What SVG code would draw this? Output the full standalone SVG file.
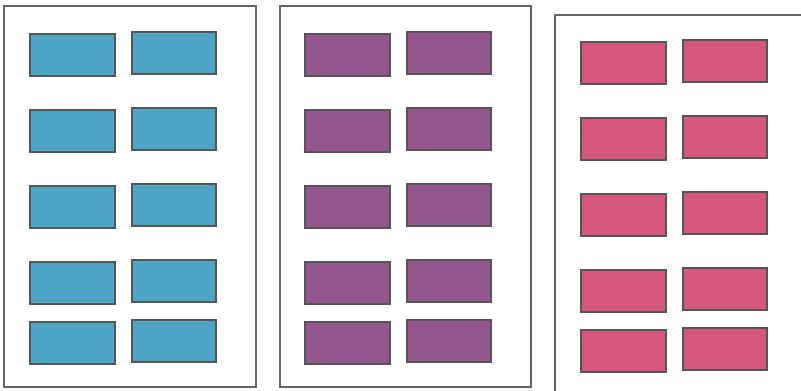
<svg xmlns="http://www.w3.org/2000/svg" width="801" height="391" viewBox="0 0 801 391">
<style>
.panel{fill:#fff;stroke:#666;stroke-width:2}
.b{stroke:#555;stroke-width:2}
.blue{fill:#4ca3c4}
.purple{fill:#95558f}
.pink{fill:#d7587d}
</style>
<rect width="801" height="391" fill="#fff"/>
<g id="panel1">
<rect class="panel" x="4" y="6" width="252" height="381"/>
<g class="b blue">
<rect id="p1a1" x="30" y="34" width="85" height="42"/>
<rect id="p1b1" x="132" y="32" width="84" height="42"/>
<rect id="p1a2" x="30" y="110" width="85" height="42"/>
<rect id="p1b2" x="132" y="108" width="84" height="42"/>
<rect id="p1a3" x="30" y="186" width="85" height="42"/>
<rect id="p1b3" x="132" y="184" width="84" height="42"/>
<rect id="p1a4" x="30" y="262" width="85" height="42"/>
<rect id="p1b4" x="132" y="260" width="84" height="42"/>
<rect id="p1a5" x="30" y="322" width="85" height="42"/>
<rect id="p1b5" x="132" y="320" width="84" height="42"/>
</g>
</g>
<g id="panel2">
<rect class="panel" x="280" y="6" width="251" height="381"/>
<g class="b purple">
<rect id="p2a1" x="305" y="34" width="85" height="42"/>
<rect id="p2b1" x="407" y="32" width="84" height="42"/>
<rect id="p2a2" x="305" y="110" width="85" height="42"/>
<rect id="p2b2" x="407" y="108" width="84" height="42"/>
<rect id="p2a3" x="305" y="186" width="85" height="42"/>
<rect id="p2b3" x="407" y="184" width="84" height="42"/>
<rect id="p2a4" x="305" y="262" width="85" height="42"/>
<rect id="p2b4" x="407" y="260" width="84" height="42"/>
<rect id="p2a5" x="305" y="322" width="85" height="42"/>
<rect id="p2b5" x="407" y="320" width="84" height="42"/>
</g>
</g>
<g id="panel3">
<rect class="panel" x="555" y="15" width="252" height="381"/>
<g class="b pink">
<rect id="p3a1" x="581" y="42" width="85" height="42"/>
<rect id="p3b1" x="683" y="40" width="84" height="42"/>
<rect id="p3a2" x="581" y="118" width="85" height="42"/>
<rect id="p3b2" x="683" y="116" width="84" height="42"/>
<rect id="p3a3" x="581" y="194" width="85" height="42"/>
<rect id="p3b3" x="683" y="192" width="84" height="42"/>
<rect id="p3a4" x="581" y="270" width="85" height="42"/>
<rect id="p3b4" x="683" y="268" width="84" height="42"/>
<rect id="p3a5" x="581" y="330" width="85" height="42"/>
<rect id="p3b5" x="683" y="328" width="84" height="42"/>
</g>
</g>
<g id="connectors"/>
</svg>
